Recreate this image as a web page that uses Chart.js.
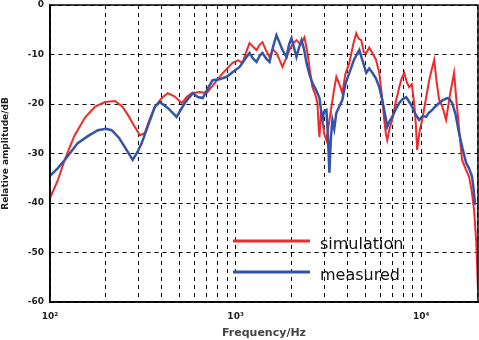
<!DOCTYPE html>
<html>
<head>
<meta charset="utf-8">
<script src="https://cdn.jsdelivr.net/npm/chart.js@4.4.0/dist/chart.umd.min.js"></script>
<style>
  html, body { margin: 0; padding: 0; background: #fff; }
  #wrap { width: 479px; height: 340px; position: relative; }
</style>
</head>
<body>
<div id="wrap"><canvas id="chart"></canvas></div>
<script>
// ====== Data ======
const simFreq = [100,110,120,135,154,175,198,224,245,263,285,305,324,345,367,400,431,470,513,545,580,640,698,771,850,963,1030,1090,1140,1189,1240,1297,1350,1396,1460,1523,1590,1660,1720,1789,1870,1950,2040,2128,2240,2350,2440,2520,2594,2680,2761,2800,2830,2880,2938,3000,3085,3180,3282,3380,3490,3620,3758,3900,4100,4300,4467,4600,4755,4900,5058,5250,5452,5700,5943,6150,6320,6450,6560,6750,6980,7300,7617,7850,8100,8350,8610,8900,9160,9350,9510,9800,10120,10600,11040,11400,11750,12100,12500,13000,13620,14300,15040,15420,16000,16600,17300,18110,18700,19270,19800,20230];
const simValues = [-39.0,-35.5,-31.3,-26.5,-22.8,-20.5,-19.6,-19.4,-20.5,-22.2,-24.5,-26.3,-25.9,-23.0,-20.6,-18.8,-17.8,-18.5,-19.8,-18.6,-17.8,-17.6,-17.8,-15.8,-13.8,-11.7,-11.2,-11.7,-9.5,-7.7,-8.4,-9.1,-8.0,-7.5,-9.2,-10.5,-9.0,-9.7,-11.0,-12.5,-10.8,-9.1,-7.8,-7.1,-8.0,-6.5,-9.7,-13.5,-16.6,-18.0,-19.8,-24.5,-26.7,-22.0,-23.2,-26.0,-27.3,-24.0,-20.6,-17.5,-14.5,-16.0,-17.8,-14.0,-11.7,-8.0,-5.7,-6.8,-7.1,-9.5,-9.7,-8.6,-9.7,-11.0,-13.7,-18.5,-23.2,-26.0,-27.3,-25.0,-23.2,-19.5,-16.6,-14.8,-13.7,-15.5,-16.6,-16.0,-19.8,-24.0,-29.3,-25.5,-23.2,-19.0,-15.2,-13.0,-11.1,-15.5,-19.2,-20.5,-23.2,-18.0,-13.7,-18.6,-25.0,-31.3,-33.0,-34.7,-37.5,-41.4,-48.0,-57.6];

const measFreq = [100,110,120,141,160,181,200,215,235,253,279,295,312,340,367,390,431,481,532,588,625,665,710,752,820,895,970,1051,1120,1189,1240,1297,1350,1396,1460,1523,1590,1660,1720,1789,1880,1940,2000,2060,2128,2200,2265,2340,2410,2500,2594,2700,2830,2880,2938,3000,3085,3140,3202,3260,3322,3400,3490,3620,3758,3900,4100,4350,4640,4850,5058,5250,5452,5700,5943,6150,6320,6450,6560,6750,6980,7300,7617,7950,8300,8600,8946,9300,9750,10200,10630,11000,11460,12000,12500,13100,13800,14200,14680,15300,16000,16700,17450,18100,18800,19200,19500];
const measValues = [-34.5,-33.0,-31.3,-27.9,-26.5,-25.3,-25.0,-25.3,-26.8,-28.7,-31.3,-29.8,-27.9,-24.0,-20.6,-19.6,-20.8,-22.6,-19.8,-17.8,-18.6,-18.8,-16.8,-15.2,-15.0,-14.5,-13.5,-12.5,-11.0,-9.7,-10.8,-11.5,-10.2,-9.7,-10.8,-11.5,-8.5,-6.1,-7.5,-9.1,-10.5,-8.0,-6.7,-8.5,-10.5,-8.5,-7.1,-9.0,-11.7,-14.0,-15.8,-17.0,-18.8,-21.0,-23.2,-21.5,-21.2,-26.0,-33.9,-27.0,-23.2,-25.0,-21.8,-20.5,-19.2,-16.0,-13.7,-11.0,-9.1,-11.5,-13.7,-12.8,-13.7,-14.8,-16.6,-19.0,-21.2,-23.0,-24.6,-23.5,-22.6,-21.0,-19.8,-19.0,-18.6,-19.5,-20.6,-22.0,-23.2,-22.4,-22.6,-21.8,-21.2,-20.4,-19.8,-19.2,-18.8,-19.0,-19.8,-22.0,-25.9,-29.0,-31.9,-33.0,-34.7,-37.5,-40.4];

const xGridValues = [100,200,300,400,500,600,700,800,900,1000,2000,3000,4000,5000,6000,7000,8000,9000,10000,20000];
const xLabelValues = { 100: "10²", 1000: "10³", 10000: "10⁴" };
const yTicks = [0,-10,-20,-30,-40,-50,-60];

const seriesNames = ["simulation", "measured"];

function toPoints(xs, ys) {
  return xs.map((x, i) => ({ x: x, y: ys[i] }));
}

// ====== Frame + legend ======
const framePlugin = {
  id: "frame",
  afterDraw(chart) {
    const { ctx, chartArea: a } = chart;
    ctx.save();
    ctx.strokeStyle = "#000";
    ctx.lineWidth = 1.5;
    ctx.strokeRect(a.left, a.top, a.right - a.left, a.bottom - a.top);

    // legend
    const items = [
      { name: seriesNames[0], color: "#ee2a2a", y: 241 },
      { name: seriesNames[1], color: "#3553a8", y: 272 }
    ];
    ctx.font = "16px 'DejaVu Sans'";
    ctx.textBaseline = "middle";
    items.forEach(it => {
      ctx.strokeStyle = it.color;
      ctx.lineWidth = 3;
      ctx.beginPath();
      ctx.moveTo(233, it.y);
      ctx.lineTo(310, it.y);
      ctx.stroke();
      ctx.fillStyle = "#111";
      ctx.fillText(it.name, 320, it.y + 4);
    });
    ctx.restore();
  }
};

new Chart(document.getElementById("chart"), {
  type: "line",
  data: {
    datasets: [
      {
        label: seriesNames[0],
        data: toPoints(simFreq, simValues),
        borderColor: "#ee2a2a",
        borderWidth: 2,
        pointRadius: 0,
        tension: 0,
        order: 2
      },
      {
        label: seriesNames[1],
        data: toPoints(measFreq, measValues),
        borderColor: "#3553a8",
        borderWidth: 2.5,
        pointRadius: 0,
        tension: 0,
        order: 1
      }
    ]
  },
  options: {
    responsive: true,
    maintainAspectRatio: false,
    animation: false,
    layout: { padding: { top: 5, right: 1, left: 0, bottom: 0 } },
    plugins: { legend: { display: false }, tooltip: { enabled: false } },
    scales: {
      x: {
        type: "logarithmic",
        min: 100,
        max: 20230,
        afterBuildTicks(scale) {
          scale.ticks = xGridValues.map(v => ({ value: v, major: !!xLabelValues[v] }));
        },
        afterFit(scale) {
          scale.height = 38;
          scale.paddingLeft = 0;
          scale.paddingRight = 0;
        },
        grid: { color: "#000", lineWidth: 1, drawTicks: false },
        border: { display: true, color: "#000", width: 1.5, dash: [4, 4] },
        ticks: {
          autoSkip: false,
          maxRotation: 0,
          padding: 9,
          color: "#222",
          font: { size: 9, family: "DejaVu Sans", weight: "bold" },
          callback: v => xLabelValues[v] || ""
        },
        title: {
          display: true,
          text: "Frequency/Hz",
          color: "#444",
          padding: { top: 0, bottom: 0 },
          font: { size: 11, family: "DejaVu Sans", weight: "bold" }
        }
      },
      y: {
        min: -60,
        max: 0,
        afterBuildTicks(scale) {
          scale.ticks = yTicks.map(v => ({ value: v }));
        },
        afterFit(scale) {
          scale.width = 50;
          scale.paddingTop = 0;
          scale.paddingBottom = 0;
        },
        grid: { color: "#000", lineWidth: 1, drawTicks: false },
        border: { display: true, color: "#000", width: 1.5, dash: [4, 4] },
        ticks: {
          padding: 6,
          color: "#222",
          font: { size: 9, family: "DejaVu Sans", weight: "bold" }
        },
        title: {
          display: true,
          text: "Relative amplitude/dB",
          color: "#222",
          padding: { top: 0, bottom: 4 },
          font: { size: 9, family: "DejaVu Sans", weight: "bold" }
        }
      }
    }
  },
  plugins: [framePlugin]
});
</script>
</body>
</html>
